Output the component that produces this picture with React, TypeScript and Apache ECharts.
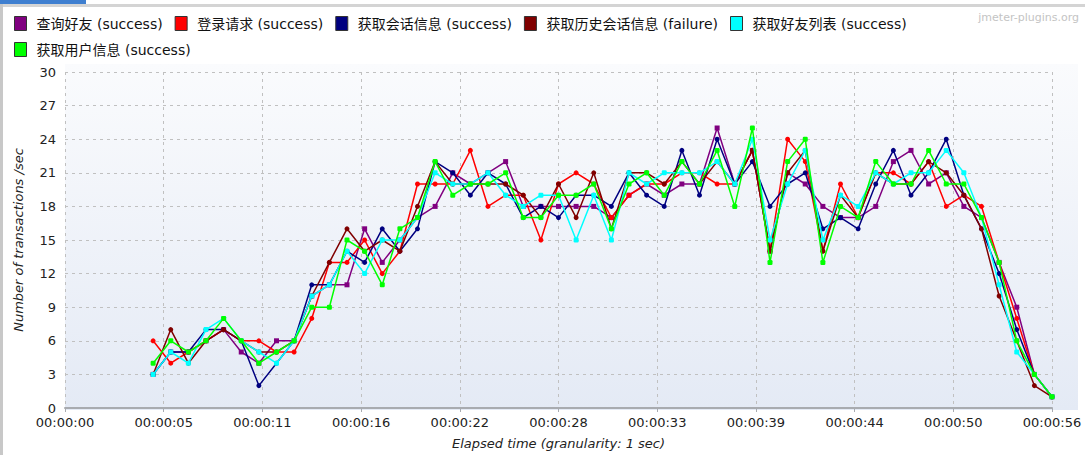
import React, { useEffect, useRef } from "react";
import * as echarts from "echarts";

const seriesNames = [
  "查询好友 (success)",
  "登录请求 (success)",
  "获取会话信息 (success)",
  "获取历史会话信息 (failure)",
  "获取好友列表 (success)",
  "获取用户信息 (success)",
];
const seriesColors = ["#800080", "#ff0000", "#000080", "#800000", "#00ffff", "#00ff00"];

const seconds = [
  5, 6, 7, 8, 9, 10, 11, 12, 13, 14, 15, 16, 17, 18, 19, 20, 21, 22, 23, 24, 25, 26, 27, 28, 29, 30,
  31, 32, 33, 34, 35, 36, 37, 38, 39, 40, 41, 42, 43, 44, 45, 46, 47, 48, 49, 50, 51, 52, 53, 54, 55, 56,
];

const chaxunHaoyou = [
  3, 5, 5, 6, 7, 5, 4, 6, 6, 10,
  11, 11, 16, 13, 15, 17, 18, 21, 20, 21,
  22, 18, 18, 18, 18, 18, 17, 19, 20, 19,
  20, 20, 25, 20, 23, 14, 21, 20, 18, 17,
  17, 18, 22, 23, 20, 21, 18, 17, 13, 9,
  3, 1,
];
const dengluQingqiu = [
  6, 4, 5, 6, 7, 6, 6, 5, 5, 8,
  13, 13, 15, 12, 14, 20, 20, 20, 23, 18,
  19, 19, 15, 20, 21, 20, 17, 19, 20, 20,
  21, 21, 20, 20, 23, 14, 24, 22, 14, 20,
  17, 21, 21, 20, 22, 18, 19, 18, 13, 8,
  3, 1,
];
const huihuaXinxi = [
  3, 5, 5, 7, 7, 6, 2, 4, 6, 11,
  11, 14, 13, 16, 14, 16, 22, 21, 19, 21,
  20, 17, 18, 17, 19, 19, 18, 21, 19, 18,
  23, 19, 24, 20, 22, 18, 20, 21, 16, 17,
  16, 20, 23, 19, 21, 24, 19, 16, 12, 7,
  3, 1,
];
const lishiHuihua = [
  3, 7, 4, 6, 7, 6, 5, 5, 6, 10,
  13, 16, 14, 15, 14, 18, 22, 20, 20, 20,
  20, 19, 17, 20, 17, 21, 16, 21, 21, 20,
  22, 20, 22, 20, 23, 14, 21, 23, 14, 19,
  17, 21, 20, 20, 22, 21, 19, 16, 10, 6,
  2, 1,
];
const haoyouLiebiao = [
  3, 5, 4, 7, 8, 6, 5, 4, 6, 10,
  11, 14, 12, 15, 15, 17, 21, 20, 20, 21,
  19, 18, 19, 19, 15, 19, 15, 21, 20, 21,
  21, 21, 22, 20, 24, 15, 20, 23, 15, 19,
  18, 21, 20, 21, 21, 23, 21, 17, 11, 5,
  3, 1,
];
const yonghuXinxi = [
  4, 6, 5, 6, 8, 6, 4, 5, 6, 9,
  9, 15, 14, 11, 16, 17, 22, 19, 20, 20,
  21, 17, 17, 19, 19, 20, 16, 20, 21, 19,
  22, 20, 23, 18, 25, 13, 22, 24, 13, 18,
  17, 22, 20, 20, 23, 20, 20, 17, 13, 6,
  3, 1,
];

const allValues = [chaxunHaoyou, dengluQingqiu, huihuaXinxi, lishiHuihua, haoyouLiebiao, yonghuXinxi];
const symbols = ["rect", "circle", "circle", "circle", "roundRect", "roundRect"];

const xTickLabels = [
  "00:00:00", "00:00:05", "00:00:11", "00:00:16", "00:00:22", "00:00:28",
  "00:00:33", "00:00:39", "00:00:44", "00:00:50", "00:00:56",
];

const FONT = "'DejaVu Sans', 'Noto Sans CJK SC', sans-serif";

export default function App() {
  const ref = useRef<HTMLDivElement>(null);
  useEffect(() => {
    if (!ref.current) return;
    const chart = echarts.init(ref.current, null, { renderer: "svg" });
    const series = seriesNames.map((name, i) => ({
      name,
      type: "line",
      data: seconds.map((s, j) => [s, allValues[i][j]]),
      symbol: symbols[i],
      symbolSize: 5,
      showSymbol: true,
      color: seriesColors[i],
      lineStyle: { width: 1.5, color: seriesColors[i] },
      itemStyle: { color: seriesColors[i] },
      emphasis: { disabled: true },
      z: 2 + i,
    }));
    const legendCommon = {
      orient: "horizontal",
      left: 9,
      icon: "rect",
      itemWidth: 12,
      itemHeight: 14,
      itemGap: 12,
      selectedMode: false,
      itemStyle: { borderColor: "#333", borderWidth: 1 },
      textStyle: { fontFamily: FONT, fontSize: 14, color: "#111", padding: [0, 0, 0, 5] },
    };
    chart.setOption({
      animation: false,
      backgroundColor: "#ffffff",
      graphic: [
        { type: "rect", z: -100, shape: { x: 0, y: 0, width: 86, height: 4 }, style: { fill: "#3f7fd0" } },
        { type: "rect", z: -100, shape: { x: 0, y: 4, width: 1085, height: 3 }, style: { fill: "#d4d4d4" } },
        { type: "rect", z: -100, shape: { x: 0, y: 4, width: 3, height: 451 }, style: { fill: "#c8c8c8" } },
        {
          type: "rect",
          z: -100,
          shape: { x: 65, y: 64, width: 1013, height: 346 },
          style: {
            fill: new echarts.graphic.LinearGradient(0, 0, 0, 1, [
              { offset: 0, color: "#fafbfd" },
              { offset: 1, color: "#e4eaf5" },
            ]),
          },
        },
        {
          type: "text",
          right: 6,
          top: 12,
          style: { text: "jmeter-plugins.org", fill: "#c4c4c4", font: "11px 'DejaVu Sans', sans-serif" },
        },
      ],
      legend: [
        { ...legendCommon, top: 11, data: seriesNames.slice(0, 5) },
        { ...legendCommon, top: 37, data: seriesNames.slice(5) },
      ],
      grid: { left: 65, right: 33, top: 72, bottom: 45, containLabel: false },
      xAxis: {
        type: "value",
        min: 0,
        max: 56,
        interval: 5.6,
        name: "Elapsed time (granularity: 1 sec)",
        nameLocation: "middle",
        nameGap: 29,
        nameTextStyle: { fontFamily: FONT, fontSize: 13, fontStyle: "italic", color: "#222" },
        axisLine: { show: true, lineStyle: { color: "#a8abb0", width: 2 } },
        axisTick: { show: true, length: 4, lineStyle: { color: "#a8abb0" } },
        axisLabel: {
          fontFamily: FONT,
          fontSize: 13,
          color: "#222",
          margin: 8,
          formatter: (v: number) => xTickLabels[Math.round(v / 5.6)] ?? "",
        },
        splitLine: { show: true, lineStyle: { color: "#c0c0c0", type: [3, 4], width: 1 } },
      },
      yAxis: {
        type: "value",
        min: 0,
        max: 30,
        interval: 3,
        name: "Number of transactions /sec",
        nameLocation: "middle",
        nameGap: 40,
        nameTextStyle: { fontFamily: FONT, fontSize: 13, fontStyle: "italic", color: "#222" },
        axisLine: { show: false },
        axisTick: { show: false },
        axisLabel: { fontFamily: FONT, fontSize: 13, color: "#222", margin: 9 },
        splitLine: { show: true, lineStyle: { color: "#c0c0c0", type: [3, 4], width: 1 } },
      },
      series,
    });
    return () => chart.dispose();
  }, []);
  return (
    <div
      ref={ref}
      style={{ position: "fixed", left: 0, top: 0, width: 1085, height: 455 }}
    />
  );
}
